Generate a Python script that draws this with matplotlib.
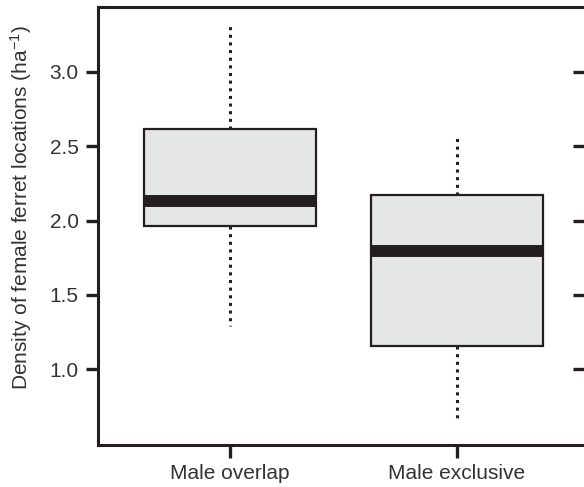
import matplotlib
matplotlib.use("Agg")
import matplotlib.pyplot as plt

plt.rcParams['font.family'] = ['Liberation Sans', 'DejaVu Sans']
plt.rcParams['mathtext.fontset'] = 'custom'
plt.rcParams['mathtext.rm'] = 'Liberation Sans'
plt.rcParams['mathtext.it'] = 'Liberation Sans:italic'

# box statistics
groups = ["Male overlap", "Male exclusive"]
whislo = [1.289, 0.644]
q1 = [1.960, 1.154]
medians = [2.130, 1.795]
q3 = [2.617, 2.174]
whishi = [3.322, 2.577]
yticks = [1.0, 1.5, 2.0, 2.5, 3.0]

ink = "#231f20"
txt = "#333333"

stats = [dict(label=g, whislo=lo, q1=a, med=m, q3=b, whishi=hi, fliers=[])
         for g, lo, a, m, b, hi in zip(groups, whislo, q1, medians, q3, whishi)]

fig = plt.figure(figsize=(5.84, 4.87), dpi=100)
ax = fig.add_axes([0.1678, 0.0862, 0.8372, 0.8994])

ax.bxp(stats, positions=[1, 2], widths=0.758, patch_artist=True, showcaps=False,
       boxprops=dict(facecolor="#e5e6e8", edgecolor=ink, linewidth=1.6),
       medianprops=dict(color=ink, linewidth=8.6, solid_capstyle="butt"),
       whiskerprops=dict(color=ink, linewidth=2.2, linestyle=(0, (1, 1.5))))

ax.set_xlim(0.419, 2.573)
ax.set_ylim(0.49, 3.436)
ax.set_yticks(yticks)
ax.set_yticklabels([f"{v:.1f}" for v in yticks])
ax.set_xticks([1, 2])
ax.set_xticklabels(groups)

for s in ax.spines.values():
    s.set_linewidth(2.2)
    s.set_color(ink)

ax.tick_params(axis="both", direction="out", length=9, width=2.4, color=ink,
               labelsize=15, labelcolor=txt, pad=5)
ax.set_ylabel(r"Density of female ferret locations (ha$^{-1}$)", fontsize=15, color=txt)
ax.yaxis.set_label_coords(-0.131, 0.543)

# inward ticks on the right edge
ax2 = ax.twinx()
ax2.set_ylim(ax.get_ylim())
ax2.set_yticks(yticks)
ax2.tick_params(axis="y", direction="in", length=10, width=2.4, color=ink,
                labelright=False)
for s in ax2.spines.values():
    s.set_visible(False)

fig.savefig("out.png", dpi=100)
